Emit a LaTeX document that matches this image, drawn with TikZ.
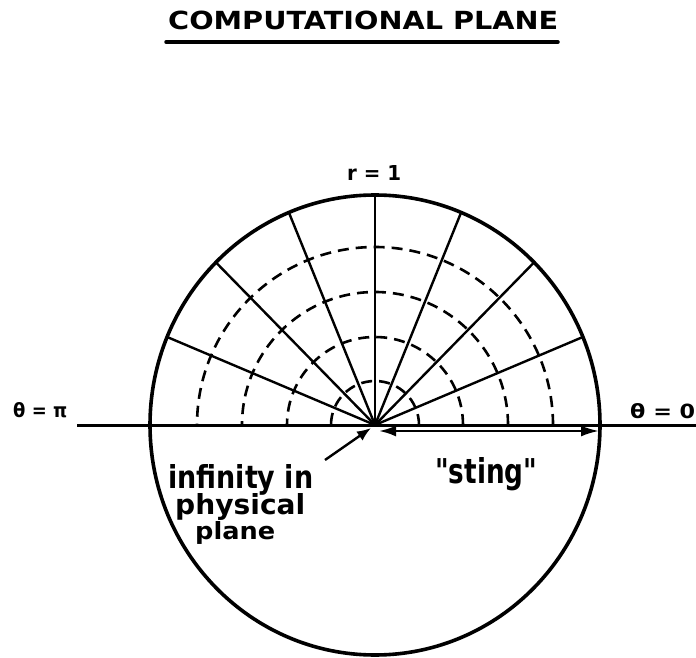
\documentclass[tikz,border=0pt]{standalone}
\usepackage{fontspec}
\setmainfont{DejaVu Sans}
\newfontfamily\lblfont{DejaVu Sans}
\usetikzlibrary{arrows.meta,calc}
\newcommand\fitbox[3]{\resizebox{#1}{#2}{\lblfont\bfseries #3}}
\begin{document}
\begin{tikzpicture}[x=1pt,y=1pt,
  lbl/.style={inner sep=0pt,anchor=base west},
  rim/.style={line width=3.6pt},
  ray/.style={line width=2.4pt},
  ring/.style={line width=2.6pt,dash pattern=on 11pt off 7pt},
  axis/.style={line width=3pt},
  underl/.style={line width=3.5pt,line cap=round},
  pointer/.style={line width=2.4pt,-{Latex[length=14pt,width=11pt]}},
  span/.style={line width=2.4pt,{Latex[length=17pt,width=11pt]}-{Latex[length=18pt,width=11pt]}}]
\useasboundingbox (0,0) rectangle (696,657);
\coordinate (C) at (375,232);
% outer circle
\draw[rim] (C) ellipse [x radius=225,y radius=230];
% rays
\foreach \a in {22.5,45,67.5,90,112.5,135,157.5}
  \draw[ray] (C) -- ($(C)+({225*cos(\a)},{230*sin(\a)})$);
% dashed circles
\foreach \r in {44,88,133,178}
  \draw[ring] ($(C)+(\r,0)$) arc[start angle=0,end angle=180,radius=\r];
% axis
\coordinate (L) at (77,232);
\coordinate (R) at (696,232);
\draw[axis] (L) -- (R);
% title
\node[lbl] (title) at (168,627) {\fitbox{390pt}{18.5pt}{COMPUTATIONAL PLANE}};
\coordinate (u1) at (166,615);
\coordinate (u2) at (558,615);
\draw[underl] (u1) -- (u2);
% labels
\node[lbl] (rone) at (347,476) {\fitbox{54pt}{15pt}{r = 1}};
\node[lbl] (tpi) at (13,240) {\fitbox{54pt}{15pt}{θ = π}};
\node[lbl] (tzero) at (630,239) {\fitbox{65pt}{15pt}{θ = 0}};
\node[lbl] (inf1) at (168,169) {\fitbox{145pt}{24pt}{infinity in}};
\node[lbl] (inf2) at (175,143) {\fitbox{130pt}{21pt}{physical}};
\node[lbl] (inf3) at (195,118) {\fitbox{80pt}{18pt}{plane}};
\node[lbl] (sting) at (435,174) {\fitbox{102pt}{26pt}{"sting"}};
% arrows
\coordinate (ptail) at (325,197);
\coordinate (phead) at (371,229);
\draw[pointer] (ptail) -- (phead);
\coordinate (s1) at (379,226);
\coordinate (s2) at (599,226);
\draw[span] (s1) -- (s2);
\end{tikzpicture}
\end{document}
